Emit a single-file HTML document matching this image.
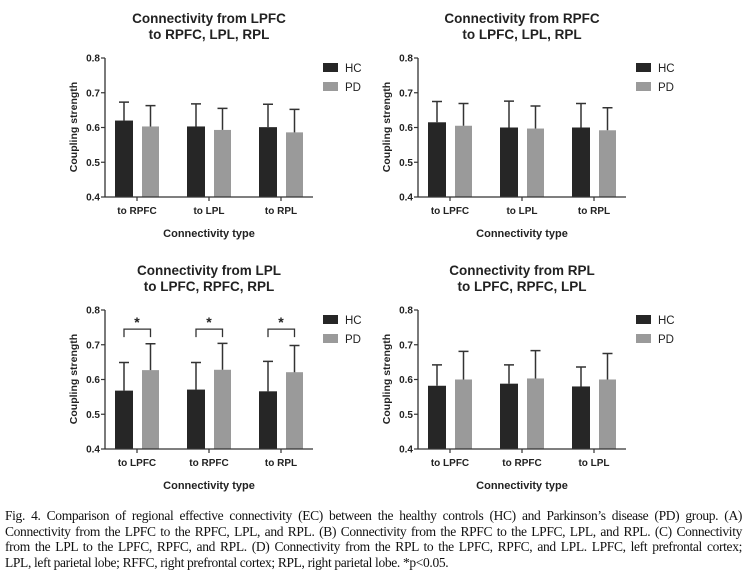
<!DOCTYPE html>
<html><head><meta charset="utf-8">
<style>
body{margin:0;background:#fff;width:747px;height:583px;overflow:hidden;position:relative;font-family:"Liberation Sans",sans-serif}
#cap{position:absolute;left:5px;top:508px;width:737px;font-family:"Liberation Serif",serif;font-size:13.5px;line-height:15.7px;color:#111;letter-spacing:-0.35px}
#cap div{text-align:justify;text-align-last:justify;white-space:nowrap}
</style></head><body>
<svg id="chart" width="747" height="500" style="position:absolute;left:0;top:0"></svg>
<div id="cap">
<div>Fig. 4. Comparison of regional effective connectivity (EC) between the healthy controls (HC) and Parkinson’s disease (PD) group. (A)</div>
<div>Connectivity from the LPFC to the RPFC, LPL, and RPL. (B) Connectivity from the RPFC to the LPFC, LPL, and RPL. (C) Connectivity</div>
<div>from the LPL to the LPFC, RPFC, and RPL. (D) Connectivity from the RPL to the LPFC, RPFC, and LPL. LPFC, left prefrontal cortex;</div>
<div style="text-align-last:left">LPL, left parietal lobe; RFFC, right prefrontal cortex; RPL, right parietal lobe. *p&lt;0.05.</div>
</div>
<script>
const titlesA=["Connectivity from LPFC","to RPFC, LPL, RPL"];
const titlesB=["Connectivity from RPFC","to LPFC, LPL, RPL"];
const titlesC=["Connectivity from LPL","to LPFC, RPFC, RPL"];
const titlesD=["Connectivity from RPL","to LPFC, RPFC, LPL"];
const catsA=["to RPFC","to LPL","to RPL"];
const catsB=["to LPFC","to LPL","to RPL"];
const catsC=["to LPFC","to RPFC","to RPL"];
const catsD=["to LPFC","to RPFC","to LPL"];
const hcA=[0.620,0.603,0.601], pdA=[0.603,0.593,0.586];
const hcTopA=[0.673,0.668,0.667], pdTopA=[0.663,0.655,0.652];
const hcB=[0.615,0.600,0.600], pdB=[0.605,0.597,0.592];
const hcTopB=[0.675,0.676,0.669], pdTopB=[0.669,0.662,0.657];
const hcC=[0.568,0.571,0.566], pdC=[0.627,0.628,0.621];
const hcTopC=[0.649,0.649,0.652], pdTopC=[0.703,0.704,0.698];
const hcD=[0.582,0.588,0.580], pdD=[0.600,0.603,0.600];
const hcTopD=[0.642,0.642,0.636], pdTopD=[0.681,0.683,0.675];
const sigC=[true,true,true];
const yTicks=[0.4,0.5,0.6,0.7,0.8];
const yTickLabels=["0.4","0.5","0.6","0.7","0.8"];
const legendLabels=["HC","PD"];
const svg=document.getElementById('chart');
const NS="http://www.w3.org/2000/svg";
function mk(tag,attrs,parent){const e=document.createElementNS(NS,tag);for(const k in attrs)e.setAttribute(k,attrs[k]);parent.appendChild(e);return e;}
function panel(id,ox,oy,titles,cats,hc,pd,hcTop,pdTop,sig){
  const g=mk('g',{},svg);
  
  
  const x0=ox+105,x1=ox+313,yTop=oy+58,yBot=oy+197;
  const y=v=>yBot-(v-0.4)/0.4*(yBot-yTop);
  const gc=i=>ox+137+i*72;
  titles.forEach((t,i)=>{const e=mk('text',{x:ox+209,y:oy+23+i*16,'text-anchor':'middle','font-size':'13.5','font-weight':'bold',fill:'#222'},g);e.textContent=t;
    });
  cats.forEach((c,i)=>{
    const cx=gc(i);
    const hb=mk('rect',{x:cx-22,y:y(hc[i]),width:18,height:yBot-y(hc[i]),fill:'#262626'},g);
    
    const pb=mk('rect',{x:cx+5,y:y(pd[i]),width:17,height:yBot-y(pd[i]),fill:'#9a9a9a'},g);
    
    [[cx-13,hc[i],hcTop[i]],[cx+13.5,pd[i],pdTop[i]]].forEach(([ex,v,t])=>{
      const l=mk('path',{d:`M${ex},${y(v)}V${y(t)}M${ex-5},${y(t)}H${ex+5}`,stroke:'#333','stroke-width':'1.5',fill:'none'},g);
      });
    mk('line',{x1:cx,x2:cx,y1:yBot,y2:yBot+4,stroke:'#333','stroke-width':'1.2'},g);
    const tl=mk('text',{x:cx,y:yBot+17,'text-anchor':'middle','font-size':'10','font-weight':'bold',fill:'#222'},g);tl.textContent=c;
    
    if(sig&&sig[i]){
      const bt=y(0.745);
      const b=mk('path',{d:`M${cx-13},${bt+8}V${bt}H${cx+13.5}V${bt+8}`,stroke:'#333','stroke-width':'1.3',fill:'none'},g);
      
      const s=mk('text',{x:cx,y:bt-2,'text-anchor':'middle','font-size':'14','font-weight':'bold',fill:'#222'},g);s.textContent='*';
      
    }
  });
  mk('line',{x1:x0,x2:x0,y1:yTop,y2:yBot,stroke:'#333','stroke-width':'1.3'},g);
  mk('line',{x1:x0,x2:x1,y1:yBot,y2:yBot,stroke:'#333','stroke-width':'1.3'},g);
  yTicks.forEach((v,i)=>{
    mk('line',{x1:x0-4,x2:x0,y1:y(v),y2:y(v),stroke:'#333','stroke-width':'1.2'},g);
    const t=mk('text',{x:x0-5,y:y(v)+3.5,'text-anchor':'end','font-size':'10','font-weight':'bold',fill:'#222'},g);t.textContent=yTickLabels[i];
    
  });
  const yl=mk('text',{x:0,y:0,transform:`translate(${ox+77},${oy+127}) rotate(-90)`,'text-anchor':'middle','font-size':'10.5','font-weight':'bold',fill:'#222'},g);yl.textContent='Coupling strength';
  
  const xl=mk('text',{x:ox+209,y:oy+237,'text-anchor':'middle','font-size':'11','font-weight':'bold',fill:'#222'},g);xl.textContent='Connectivity type';
  
  legendLabels.forEach((lb,i)=>{
    const ly=oy+63+i*19;
    const r=mk('rect',{x:ox+323,y:ly,width:15,height:9,fill:i?'#9a9a9a':'#262626'},g);
    
    const t=mk('text',{x:ox+345,y:ly+9,'font-size':'11.5',fill:'#222'},g);t.textContent=lb;
    
  });
}
panel('a',0,0,titlesA,catsA,hcA,pdA,hcTopA,pdTopA,null);
panel('b',313,0,titlesB,catsB,hcB,pdB,hcTopB,pdTopB,null);
panel('c',0,252,titlesC,catsC,hcC,pdC,hcTopC,pdTopC,sigC);
panel('d',313,252,titlesD,catsD,hcD,pdD,hcTopD,pdTopD,null);
</script>
</body></html>
